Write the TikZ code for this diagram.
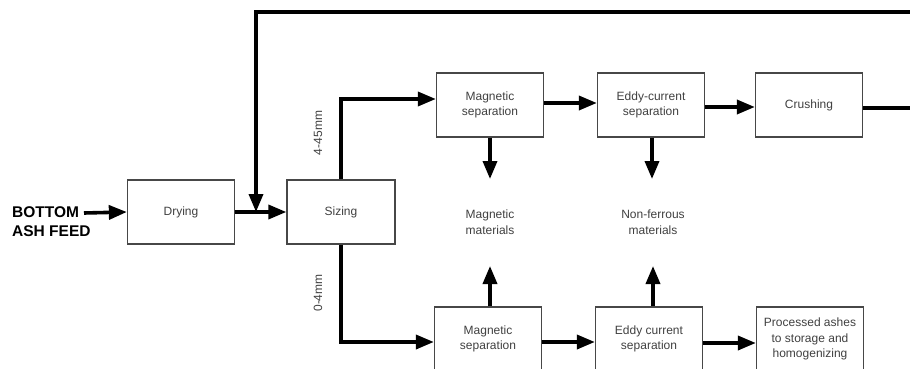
\documentclass[tikz,border=0pt]{standalone}
\usepackage{fontspec}
\setmainfont{Liberation Sans}
\usetikzlibrary{arrows.meta}
\begin{document}
\begin{tikzpicture}[x=1pt,y=-1pt,
  box/.style={draw=black!72,line width=1.3pt,minimum width=107pt,minimum height=64pt,
    inner sep=0pt,align=center,font=\fontsize{12}{15.5}\selectfont,text=black!75},
  lbl/.style={align=center,font=\fontsize{12}{15.5}\selectfont,text=black!75},
  flow/.style={line width=3.6pt,-{Triangle[length=18pt,width=14pt]}},
  pipe/.style={line width=3.6pt}]
\useasboundingbox (0,0) rectangle (910,369);
\clip (0,0) rectangle (910,369);

% process boxes
\node[box] (drying) at (181,212) {Drying};
\node[box,minimum width=108pt] (sizing) at (341,212) {Sizing};
\node[box] (magA) at (490,105) {Magnetic\\separation};
\node[box] (eddyA) at (651,105) {Eddy-current\\separation};
\node[box] (crush) at (809,105) {Crushing};
\node[box] (magB) at (488,339) {Magnetic\\separation};
\node[box] (eddyB) at (649,339) {Eddy current\\separation};
\node[box] (proc) at (810,339) {Processed ashes\\to storage and\\homogenizing};

% products and labels
\node[lbl] (magMat) at (490,222) {Magnetic\\materials};
\node[lbl] (nfMat) at (653,222) {Non-ferrous\\materials};
\node[anchor=west,align=left,font=\bfseries\fontsize{15.5}{19}\selectfont,inner sep=0pt] (feed) at (12,222) {BOTTOM\\ASH FEED};
\node[lbl,rotate=90] (coarse) at (318,133) {4-45mm};
\node[lbl,rotate=90] (fine) at (318,293) {0-4mm};

% free ends of the connectors
\coordinate (feedIn) at (84,213);
\coordinate (topR) at (920,12);
\coordinate (topL) at (256,12);
\coordinate (fbTip) at (256,212);
\coordinate (crushOut) at (920,108);
\coordinate (magDn) at (490,179);
\coordinate (eddyDn) at (652,179);
\coordinate (magUp) at (490,266);
\coordinate (eddyUp) at (653,266);

% main line
\draw[flow] (feedIn) -- (drying.west);
\draw[flow] (drying.east) -- (sizing.west);
\draw[flow,line join=miter] (topR) -- (topL) -- (fbTip);

% coarse fraction
\draw[flow] (sizing.north) |- ([yshift=6pt]magA.west);
\draw[flow] ([yshift=2pt]magA.east) -- ([yshift=2pt]eddyA.west);
\draw[flow] ([yshift=-2pt]eddyA.east) -- ([yshift=-2pt]crush.west);
\draw[pipe] ([yshift=-3pt]crush.east) -- (crushOut);
\draw[flow] (magA.south -| magDn) -- (magDn);
\draw[flow] (eddyA.south -| eddyDn) -- (eddyDn);

% fine fraction
\draw[flow] (sizing.south) |- ([yshift=-3pt]magB.west);
\draw[flow] ([yshift=-3pt]magB.east) -- ([yshift=-3pt]eddyB.west);
\draw[flow] ([yshift=-4pt]eddyB.east) -- ([yshift=-4pt]proc.west);
\draw[flow] (magB.north -| magUp) -- (magUp);
\draw[flow] (eddyB.north -| eddyUp) -- (eddyUp);
\end{tikzpicture}
\end{document}
